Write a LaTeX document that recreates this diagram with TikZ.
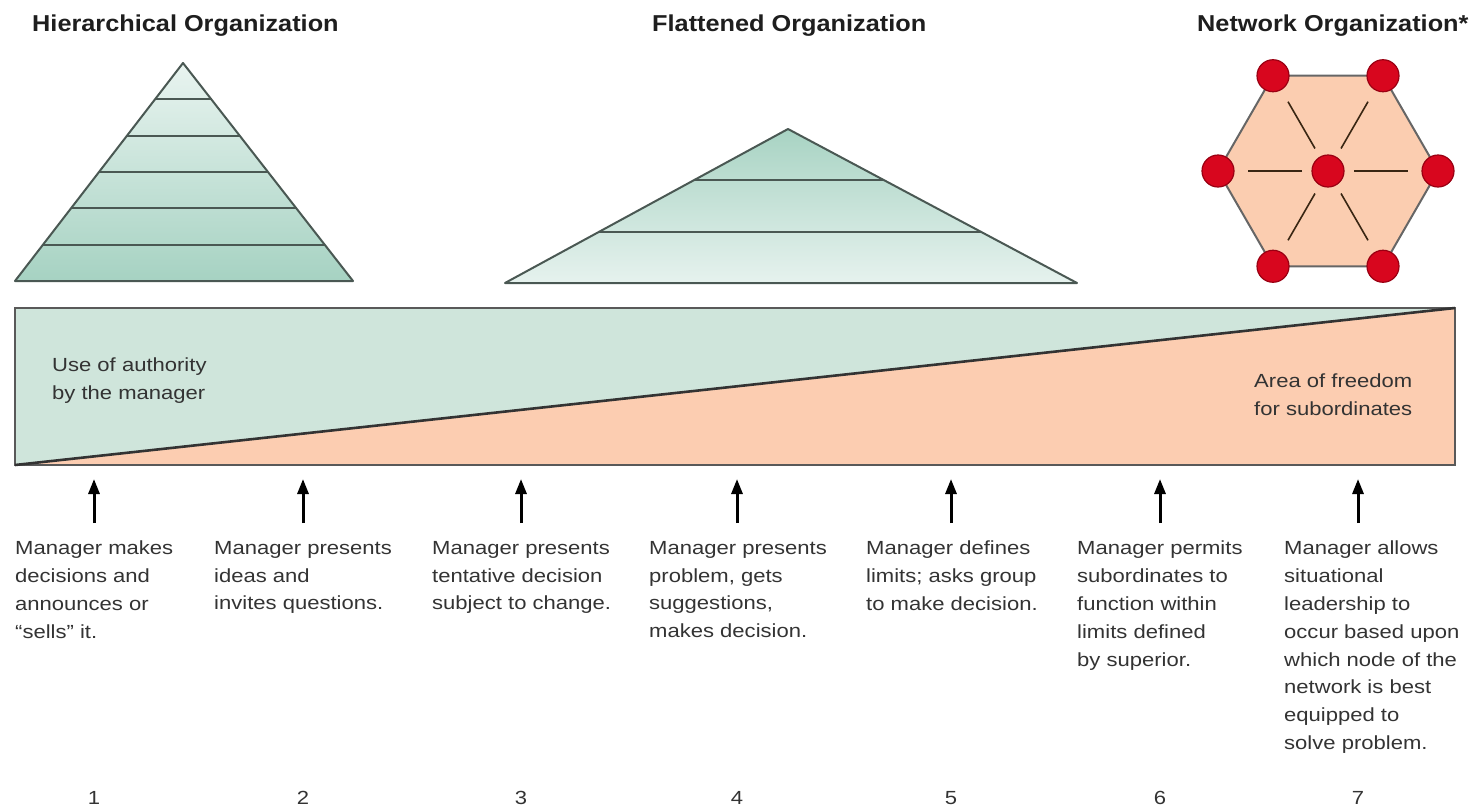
\documentclass[tikz,border=0pt]{standalone}
\usepackage{fontspec}
\usetikzlibrary{arrows.meta,calc}
\newfontfamily\bodyf[FakeStretch=1.16]{Liberation Sans}
\newfontfamily\titlef[FakeStretch=1.1]{Liberation Sans}
\definecolor{gfill}{HTML}{CFE5DB}
\definecolor{ofill}{HTML}{FCCDB1}
\definecolor{hexfill}{HTML}{FBCDB0}
\definecolor{pyline}{HTML}{4A5853}
\definecolor{nodered}{HTML}{D8061E}
\definecolor{nodeedge}{HTML}{9A0012}
\definecolor{txt}{HTML}{333333}
\definecolor{ttl}{HTML}{1E1E1E}
\definecolor{pylight}{HTML}{E9F4F0}
\definecolor{pydark}{HTML}{A6D2C2}
\definecolor{fpdark}{HTML}{A8D3C3}
\definecolor{fplight}{HTML}{E6F2EE}
\tikzset{
  title/.style={anchor=base west, inner sep=0pt, text=ttl, font=\titlef\bfseries\fontsize{23}{28}\selectfont},
  body/.style={anchor=north west, inner sep=0pt, align=left, text=txt, font=\bodyf\fontsize{19}{27.8}\selectfont},
  num/.style={anchor=base, inner sep=0pt, text=txt, font=\bodyf\fontsize{19}{27.8}\selectfont},
  pyr/.style={draw=pyline, line width=2pt, line join=round},
  band/.style={draw=pyline, line width=2pt},
  netnode/.style={circle, minimum size=32pt, inner sep=0pt, fill=nodered, draw=nodeedge, line width=1.2pt},
  spoke/.style={draw=HTML4, line width=1.6pt},
  arr/.style={line width=3pt, -{Triangle[length=15pt,width=11pt]}},
}
\colorlet{HTML4}{black!70!brown}
\begin{document}
\begin{tikzpicture}[x=1pt,y=-1pt]
\useasboundingbox (0,0) rectangle (1480,806);
% titles
\node[title] (th) at (32,31) {Hierarchical Organization};
\node[title] (tf) at (652,31) {Flattened Organization};
\node[title] (tn) at (1197,31) {Network Organization*};
% hierarchical pyramid
\coordinate (ha) at (183,63);
\coordinate (hl) at (15,281);
\coordinate (hr) at (353,281);
\shade[top color=pylight, bottom color=pydark] (ha) -- (hl) -- (hr) -- cycle;
\foreach \i in {1,...,5}{
  \draw[band] ($(ha)!\i/6!(hl)$) -- ($(ha)!\i/6!(hr)$);
}
\draw[pyr] (ha) -- (hl) -- (hr) -- cycle;
% flattened pyramid
\coordinate (fa) at (788,129);
\coordinate (fl) at (505,283);
\coordinate (fr) at (1077,283);
\shade[top color=fpdark, bottom color=fplight] (fa) -- (fl) -- (fr) -- cycle;
\foreach \i in {1,2}{
  \draw[band] ($(fa)!\i/3!(fl)$) -- ($(fa)!\i/3!(fr)$);
}
\draw[pyr] (fa) -- (fl) -- (fr) -- cycle;
% network hexagon
\coordinate (hc) at (1328,171);
\filldraw[fill=hexfill, draw=gray!80!black, line width=2pt]
  ($(hc)+(0:110)$) -- ($(hc)+(60:110)$) -- ($(hc)+(120:110)$) -- ($(hc)+(180:110)$) -- ($(hc)+(240:110)$) -- ($(hc)+(300:110)$) -- cycle;
\foreach \a in {0,60,...,300}{
  \draw[spoke] ($(hc)+(\a:26)$) -- ($(hc)+(\a:80)$);
}
\node[netnode] (n0) at (hc) {};
\node[netnode] (n1) at ($(hc)+(0:110)$) {};
\node[netnode] (n2) at ($(hc)+(60:110)$) {};
\node[netnode] (n3) at ($(hc)+(120:110)$) {};
\node[netnode] (n4) at ($(hc)+(180:110)$) {};
\node[netnode] (n5) at ($(hc)+(240:110)$) {};
\node[netnode] (n6) at ($(hc)+(300:110)$) {};
% main band
\coordinate (rtl) at (15,308);
\coordinate (rtr) at (1455,308);
\coordinate (rbl) at (15,465);
\coordinate (rbr) at (1455,465);
\fill[gfill] (rtl) -- (rtr) -- (rbl) -- cycle;
\fill[ofill] (rbl) -- (rtr) -- (rbr) -- cycle;
\draw[gray!70!black, line width=1.8pt] (rtl) rectangle (rbr);
\draw[black!80, line width=2.6pt] (rbl) -- (rtr);
\node[body] (ua) at (52,358) {Use of authority\\by the manager};
\node[body] (af) at (1254,374) {Area of freedom\\for subordinates};
% arrows and descriptions
\foreach \x [count=\i] in {94,303,521,737,951,1160,1358}{
  \coordinate (b\i) at (\x,523);
  \coordinate (t\i) at (\x,479);
  \draw[arr] (b\i) -- (t\i);
  \node[num] (k\i) at (\x,804) {\i};
}
\node[body] (d1) at (15,541) {Manager makes\\decisions and\\announces or\\\textquotedblleft sells\textquotedblright\ it.};
\node[body] (d2) at (214,541) {Manager presents\\ideas and\\invites questions.};
\node[body] (d3) at (432,541) {Manager presents\\tentative decision\\subject to change.};
\node[body] (d4) at (649,541) {Manager presents\\problem, gets\\suggestions,\\makes decision.};
\node[body] (d5) at (866,541) {Manager defines\\limits; asks group\\to make decision.};
\node[body] (d6) at (1077,541) {Manager permits\\subordinates to\\function within\\limits defined\\by superior.};
\node[body] (d7) at (1284,541) {Manager allows\\situational\\leadership to\\occur based upon\\which node of the\\network is best\\equipped to\\solve problem.};
\end{tikzpicture}
\end{document}
